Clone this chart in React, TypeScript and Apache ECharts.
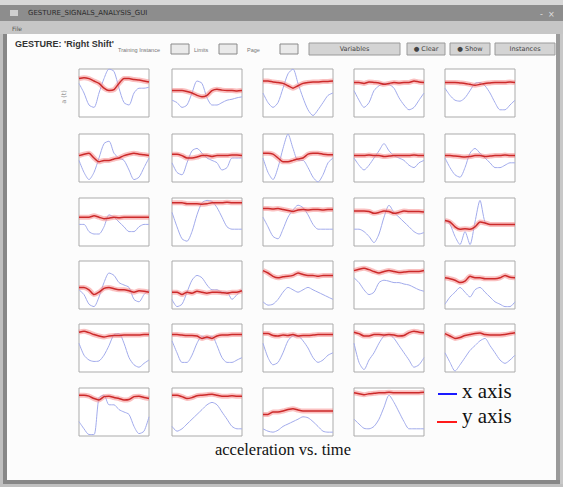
import React, { useEffect, useRef } from 'react';
import * as echarts from 'echarts';

// time steps along each small plot
const timeSteps = ['0', '1', '2', '3', '4', '5', '6', '7', '8', '9', '10', '11', '12', '13', '14'];

// x-axis acceleration (blue), one list per instance, row-major (5 per row)
const xAxisAccel: number[][] = [
  [7, 5, 2.5, 2, 5, 8, 10, 9.5, 6, 3, 2.5, 5, 6, 6, 6.2],
  [3.5, 3, 2, 2.5, 5, 7.5, 7, 4, 2.5, 2.5, 3, 3.5, 3.7, 4, 4.2],
  [5, 3, 2, 3, 6, 9, 10, 7, 4, 1.5, 0.3, 1.5, 3, 4.5, 5],
  [5.5, 3.5, 2, 3, 5.5, 6.5, 7, 6.8, 6, 4, 2.5, 1.5, 2, 3.5, 5],
  [6, 4.5, 3.5, 3.3, 4, 5.5, 7, 7.2, 6.5, 5, 3, 1.5, 1.5, 2.5, 3.5],

  [4.5, 2, 0.5, 2, 5, 8, 8.5, 6, 5, 4.5, 2.5, 0.5, 1, 3, 5],
  [4, 2, 1.5, 4, 6.5, 7, 6, 5, 4.5, 4, 2.5, 3, 5, 5, 5],
  [5, 2, 0.5, 3, 7, 10, 7, 4.5, 4.5, 3, 1, 0, 1.5, 4, 5],
  [5, 3.5, 2.5, 3.5, 5, 6.5, 8, 6.5, 5.5, 5, 4.5, 3.5, 3, 4, 4.5],
  [5, 3, 1.5, 1, 3, 6, 7, 6, 5, 4, 3, 3, 3.5, 4, 4],

  [4.5, 4.5, 3, 2.5, 2.5, 4, 6.5, 6, 5, 4, 3, 3, 4, 4.5, 4.5],
  [7, 4, 1.5, 1, 3, 6.5, 9, 9.5, 9.3, 8, 6, 4, 3.5, 3.5, 3.5],
  [6, 4, 2, 1.5, 3.5, 6, 7.5, 8.5, 8, 6.5, 4.5, 3.5, 3.5, 3.5, 3.5],
  [3.5, 3.5, 3, 2, 0.7, 2.5, 6, 8.5, 7, 6, 5, 4, 3, 2.5, 2.8],
  [5.5, 4.5, 2, 0.3, 3, 0.3, 5, 9.5, 5, 4.5, 4.5, 4.5, 4.5, 4.5, 4.5],

  [4, 3, 1, 0.5, 2.5, 5.5, 7.5, 7, 5.5, 5, 4.5, 2, 1.5, 3, 4],
  [2, 0.5, 1, 3.5, 6, 7, 6.5, 5, 4, 4, 3.5, 3.5, 2, 3, 4],
  [1.5, 0.8, 1, 2, 3.5, 4.5, 4, 3.5, 4, 4.5, 4, 3.5, 3, 2.5, 2],
  [6.5, 5.5, 4, 3, 3.5, 5.5, 6, 5.8, 5.5, 5.5, 5.2, 5, 4.5, 4, 3.7],
  [1, 2.5, 3.5, 4.5, 3.5, 2.5, 4, 4.5, 3.5, 2.5, 1.5, 1, 0.5, 0.5, 1.5],

  [6, 3.5, 2.5, 2.2, 2.3, 3.5, 5.5, 7.8, 8, 6, 3, 1.5, 1, 1.8, 2.5],
  [6.5, 4, 2, 2, 3.5, 6, 7.5, 7, 7.5, 5.5, 3, 2, 2, 2.5, 3],
  [6, 3, 1.5, 2, 4, 6.5, 7.5, 7.5, 6.5, 5, 3, 2, 2.5, 3.5, 4],
  [6, 2, 0.5, 2.5, 4, 6, 7.5, 7.8, 7, 5.5, 4, 2.5, 1, 1.5, 3],
  [4, 2, 0.2, 1.5, 3, 4.5, 5.5, 6.5, 7, 5.5, 4, 2.5, 1.8, 2.5, 3.5],

  [3, 1.5, 0.3, 0.3, 8, 8.5, 6.5, 6.5, 5.5, 5, 4.5, 2, 0.5, 1, 4],
  [2, 1, 1.5, 2.5, 3.5, 4.5, 5.5, 6.5, 7, 6.5, 5, 3.5, 2, 1.5, 1.5],
  [1.5, 1, 0.8, 1.2, 2, 2.5, 3, 3.5, 4, 3.8, 3, 2, 1, 0.8, 0.8],
  [3.5, 2.5, 1.6, 1.5, 2, 3.5, 6, 8.5, 7, 5, 3, 1.5, 1.5, 1.5, 1.5],
];

// y-axis acceleration (red), same order
const yAxisAccel: number[][] = [
  [8, 8.2, 8, 7.5, 7, 6, 5.5, 5.7, 7, 8, 8, 7.8, 7.7, 7.5, 7.3],
  [5.5, 5.5, 5.5, 5.3, 5, 4.5, 4.2, 4.5, 5.5, 5.8, 5.6, 5.5, 5.5, 5.4, 5.5],
  [7.5, 7.5, 7.3, 7.2, 7, 6.5, 6, 6.5, 7, 7.2, 7.3, 7.3, 7.4, 7.4, 7.5],
  [7.2, 7.2, 7, 7.3, 7.2, 7.1, 6.8, 7, 7.2, 7.1, 7.2, 7.2, 7.5, 7.3, 7.2],
  [7.2, 7.2, 7.2, 7.1, 7, 6.8, 6.6, 6.8, 7, 7.1, 7.2, 7.2, 7.2, 7.3, 7.2],

  [5.5, 5.8, 6, 5, 4.2, 4.5, 4.5, 4.8, 5, 5.5, 5.8, 6, 5.8, 5.7, 5.5],
  [5.8, 5.8, 5.5, 5, 5, 5.2, 5.5, 5.5, 5.3, 5.5, 5.5, 5.5, 5.6, 5.6, 5.5],
  [6, 6, 5.8, 5, 4.2, 4.2, 4.5, 4.8, 5, 5.8, 6, 6, 5.8, 5.7, 5.7],
  [5.5, 5.5, 5.5, 5.6, 5.5, 5.5, 5.3, 5.4, 5.5, 5.5, 5.5, 5.5, 5.6, 5.5, 5.5],
  [5.5, 5.5, 5.4, 5.3, 5.2, 5.3, 5.5, 5.5, 5.3, 5.4, 5.5, 5.5, 5.6, 5.5, 5.5],

  [6, 6, 6, 6.3, 6, 5.7, 5.8, 6, 5.9, 6, 6, 6, 6, 6, 6],
  [9, 9, 9, 8.8, 8.8, 8.8, 8.7, 8.8, 9, 9, 9, 9.1, 9, 9, 9],
  [7.8, 7.8, 7.7, 7.8, 7.6, 7.4, 7.2, 7.5, 7.6, 7.5, 7.6, 7.6, 7.5, 7.6, 7.6],
  [7.3, 7.3, 7.3, 7.2, 6.8, 7, 7.3, 7.2, 6.8, 7, 7.3, 7.2, 7.2, 7.2, 7.1],
  [5.3, 5, 4, 3.5, 3.6, 3.5, 4, 5, 4.8, 4.5, 4.5, 4.5, 4.5, 4.5, 4.5],

  [4.5, 4.5, 4, 3, 3.5, 4.3, 4.5, 4.2, 4, 4, 3.8, 3.5, 3.8, 3.7, 3.5],
  [3.5, 3.5, 3, 3.5, 3.3, 3.7, 3.5, 3.3, 3.5, 3.5, 3.4, 3.3, 3.5, 3.5, 3.8],
  [8, 7.5, 6.8, 6.5, 6.7, 6.8, 7, 7.5, 7.2, 7, 7, 6.8, 7, 7, 7],
  [8, 8.3, 8.5, 8.2, 7.8, 7.5, 7.8, 8, 7.8, 7.6, 7.7, 7.8, 7.8, 7.8, 8],
  [6.5, 6.3, 6, 5.5, 5.8, 6.8, 6.5, 6.5, 6.3, 6.3, 6.3, 6.5, 7, 6.6, 6.5],

  [8.3, 8.5, 8.2, 7.8, 7.5, 7.3, 7.5, 7.6, 7.6, 7.7, 7.7, 7.7, 7.7, 7.8, 7.8],
  [7.8, 7.8, 7.7, 7.6, 7.6, 7.5, 7, 7.3, 7, 7.5, 7.7, 7.7, 7.8, 7.8, 7.8],
  [8, 8, 7.6, 7.5, 7.7, 7.6, 7.8, 7.5, 7.6, 7.6, 7.7, 7.8, 7.8, 7.8, 7.8],
  [8.3, 8, 7.5, 7.5, 7.8, 7.8, 7.7, 7.8, 7.7, 7.5, 7.6, 8.2, 8.5, 8.3, 8.2],
  [8, 7.5, 7, 7.2, 7.6, 7.8, 8, 8.1, 7.8, 7.7, 7.7, 7.7, 7.8, 8, 8.2],

  [8.5, 8.5, 8.3, 7.8, 7.5, 8.2, 8.3, 8, 7.8, 7.5, 7.6, 8.2, 8.3, 8, 7.8],
  [8.5, 8.5, 8.2, 7.8, 8, 8.4, 8.5, 8.6, 8.7, 8.5, 8.3, 8.3, 8.4, 8.3, 8.3],
  [4.5, 4.5, 5, 5, 5.2, 5.5, 5.7, 5.4, 5.2, 5.2, 5.2, 5.2, 5.2, 5.2, 5.2],
  [9, 8.8, 8.6, 8.8, 8.9, 9, 9, 9.1, 9, 9, 9, 9, 9, 9, 9.1],
];

const legendLabels = ['x axis', 'y axis'];
const chartTitle = 'acceleration vs. time';
const gestureTitle = "GESTURE: 'Right Shift'";
const windowTitle = 'GESTURE_SIGNALS_ANALYSIS_GUI';

export default function App() {
  const ref = useRef<HTMLDivElement>(null);

  useEffect(() => {
    if (!ref.current) return;
    const chart = echarts.init(ref.current, undefined, { renderer: 'svg' });

    const colLefts = [79, 172, 263, 354, 445];
    const rowTops = [69, 134, 198, 261, 324, 388];
    const grids: any[] = [];
    const xAxes: any[] = [];
    const yAxes: any[] = [];
    const series: any[] = [];

    xAxisAccel.forEach((xs, i) => {
      const r = Math.floor(i / 5);
      const c = i % 5;
      grids.push({
        left: colLefts[c], top: rowTops[r], width: 70, height: 48,
        show: true, borderColor: '#ababab', borderWidth: 1, backgroundColor: '#ffffff',
      });
      xAxes.push({ type: 'category', gridIndex: i, data: timeSteps, boundaryGap: false, show: false });
      yAxes.push({ type: 'value', gridIndex: i, min: 0, max: 10, show: false });
      series.push({
        type: 'line', name: legendLabels[0], xAxisIndex: i, yAxisIndex: i, data: xs,
        symbol: 'none', smooth: 0.25, lineStyle: { color: '#a2abec', width: 1 }, z: 2,
      });
      series.push({
        type: 'line', name: legendLabels[1], xAxisIndex: i, yAxisIndex: i, data: yAxisAccel[i],
        symbol: 'none', smooth: 0.2, lineStyle: { color: 'rgba(245,140,140,0.55)', width: 5 }, z: 3,
      });
      series.push({
        type: 'line', name: legendLabels[1], xAxisIndex: i, yAxisIndex: i, data: yAxisAccel[i],
        symbol: 'none', smooth: 0.2, lineStyle: { color: '#cc2a2a', width: 1.5 }, z: 4,
      });
    });

    const btn = (x: number, w: number, label: string) => ([
      { type: 'rect', shape: { x, y: 43, width: w, height: 12 }, style: { fill: '#d4d4d4', stroke: '#9a9a9a', lineWidth: 1 } },
      { type: 'text', x: x + w / 2, y: 49, style: { text: label, fontSize: 6.5, fill: '#444', align: 'center', verticalAlign: 'middle', fontFamily: 'DejaVu Sans' } },
    ]);
    const inputBox = (x: number) => ({
      type: 'rect', shape: { x, y: 44, width: 18, height: 10 }, style: { fill: '#eaeaea', stroke: '#8a8a8a', lineWidth: 1 },
    });
    const smallText = (x: number, t: string) => ({
      type: 'text', x, y: 50, style: { text: t, fontSize: 5.5, fill: '#777', verticalAlign: 'middle', fontFamily: 'Liberation Sans' },
    });

    const graphic: any[] = [
      { type: 'rect', shape: { x: 0, y: 0, width: 563, height: 5 }, style: { fill: '#d8d8d8' } },
      { type: 'rect', shape: { x: 0, y: 5, width: 563, height: 16 }, style: { fill: '#8d8d8d' } },
      { type: 'rect', shape: { x: 10, y: 10, width: 8, height: 6 }, style: { fill: '#cfcfcf' } },
      { type: 'text', x: 28, y: 13, style: { text: windowTitle, fontSize: 7, fill: '#2c2c2c', verticalAlign: 'middle', fontFamily: 'DejaVu Sans' } },
      { type: 'text', x: 540, y: 14, style: { text: '-  ×', fontSize: 8, fill: '#e0e0e0', verticalAlign: 'middle', fontFamily: 'DejaVu Sans' } },
      { type: 'rect', shape: { x: 0, y: 21, width: 563, height: 13 }, style: { fill: '#c6c6c6' } },
      { type: 'text', x: 12, y: 28, style: { text: 'File', fontSize: 6, fill: '#555', verticalAlign: 'middle', fontFamily: 'DejaVu Sans' } },
      // window borders
      { type: 'rect', shape: { x: 0, y: 34, width: 3, height: 453 }, style: { fill: '#c0c0c0' } },
      { type: 'rect', shape: { x: 3, y: 34, width: 4, height: 450 }, style: { fill: '#878787' } },
      { type: 'rect', shape: { x: 556, y: 34, width: 4, height: 450 }, style: { fill: '#9a9a9a' } },
      { type: 'rect', shape: { x: 560, y: 34, width: 3, height: 453 }, style: { fill: '#c8c8c8' } },
      { type: 'rect', shape: { x: 3, y: 480, width: 557, height: 4 }, style: { fill: '#878787' } },
      { type: 'rect', shape: { x: 0, y: 484, width: 563, height: 3 }, style: { fill: '#c0c0c0' } },
      // toolbar
      { type: 'text', x: 15, y: 44, style: { text: gestureTitle, fontSize: 9, fontWeight: 'bold', fill: '#333', verticalAlign: 'middle', fontFamily: 'Liberation Sans' } },
      smallText(118, 'Training Instance'),
      inputBox(171),
      smallText(194, 'Limits'),
      inputBox(219),
      smallText(247, 'Page'),
      inputBox(280),
      ...btn(309, 91, 'Variables'),
      ...btn(407, 38, '● Clear'),
      ...btn(450, 40, '● Show'),
      ...btn(495, 60, 'Instances'),
      // side label
      { type: 'text', x: 64, y: 97, rotation: Math.PI / 2, style: { text: 'a (t)', fontSize: 6.5, fill: '#999', align: 'center', verticalAlign: 'middle', fontFamily: 'DejaVu Sans' } },
      // legend
      { type: 'line', shape: { x1: 438, y1: 394, x2: 457, y2: 394 }, style: { stroke: '#1a1aff', lineWidth: 2 } },
      { type: 'text', x: 462, y: 391, style: { text: legendLabels[0], fontSize: 21, fill: '#111', verticalAlign: 'middle', fontFamily: 'Liberation Serif' } },
      { type: 'line', shape: { x1: 437, y1: 422, x2: 457, y2: 422 }, style: { stroke: '#ff1a1a', lineWidth: 2 } },
      { type: 'text', x: 462, y: 416, style: { text: legendLabels[1], fontSize: 21, fill: '#111', verticalAlign: 'middle', fontFamily: 'Liberation Serif' } },
      // caption
      { type: 'text', x: 283, y: 449, style: { text: chartTitle, fontSize: 16.5, fill: '#111', align: 'center', verticalAlign: 'middle', fontFamily: 'Liberation Serif' } },
    ];

    chart.setOption({
      animation: false,
      backgroundColor: '#fcfcfc',
      grid: grids,
      xAxis: xAxes,
      yAxis: yAxes,
      series,
      graphic,
    });
    return () => chart.dispose();
  }, []);

  return <div ref={ref} style={{ position: 'fixed', left: 0, top: 0, width: 563, height: 487 }} />;
}
